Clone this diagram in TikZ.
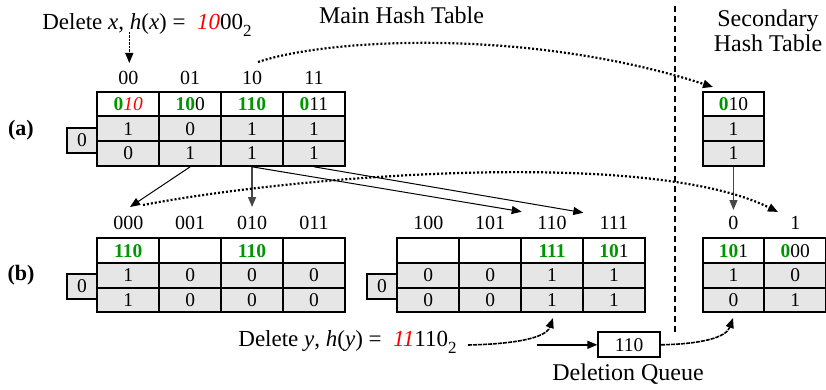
\documentclass[tikz,border=0pt]{standalone}
\usepackage{fontspec}
\setmainfont{Liberation Serif}
\usetikzlibrary{arrows.meta}
\definecolor{bitgreen}{RGB}{0,150,0}
\definecolor{bitred}{RGB}{255,0,0}
\definecolor{cellgray}{RGB}{230,230,230}
\definecolor{linkgray}{RGB}{70,70,70}
\newcommand\gb[1]{\textcolor{bitgreen}{\bfseries #1}}
\newcommand\ri[1]{\textcolor{bitred}{\itshape #1}}
\newcommand\fs[1]{\fontsize{#1}{#1}\selectfont}
% one bucket column: name, x centre, y top, key, two bit cells
\newcommand\bucket[6]{%
  \node[keycell] (#1k) at (#2,#3+12.35) {#4};
  \node[bitcell] (#1b) at (#2,#3+37.05) {#5};
  \node[bitcell] (#1c) at (#2,#3+61.75) {#6};
}
\tikzset{
  cellbase/.style={draw, line width=2pt, minimum width=61.9pt, minimum height=24.7pt,
    inner sep=0pt, font=\fs{19.5}},
  keycell/.style={cellbase, fill=white},
  bitcell/.style={cellbase, fill=cellgray},
  depthbox/.style={draw, line width=2pt, fill=cellgray, minimum width=30.6pt,
    minimum height=25pt, inner sep=0pt, font=\fs{19.5}},
  colhead/.style={font=\fs{20}, inner sep=0pt},
  title/.style={font=\fs{24}, inner sep=0pt},
  tip/.style={-{Triangle[length=10pt,width=8pt]}},
  link/.style={tip, line width=1pt},
  glink/.style={tip, line width=1.4pt, draw=linkgray},
  dotlink/.style={tip, line width=2.2pt, dash pattern=on 2pt off 2pt},
  dashlink/.style={tip, line width=1.6pt, dash pattern=on 4pt off 1pt},
}
\begin{document}
\begin{tikzpicture}[x=1pt, y=-1pt]
\useasboundingbox (0,0) rectangle (826,390);

% titles and separator
\node[title] (main) at (401.5,15) {Main Hash Table};
\node[title, align=center] (sec) at (768,31) {Secondary\\[1pt]Hash Table};
\coordinate (septop) at (675,6);
\coordinate (sepbot) at (675,333);
\draw[line width=1.6pt, dash pattern=on 6pt off 4pt] (septop) -- (sepbot);

% ---------- (a) ----------
\node[font=\fs{22}\bfseries, inner sep=0pt] (la) at (21,130) {(a)};
\node[font=\fs{23}, inner sep=0pt] (delx) at (147,25)
  {Delete \textit{x}, \textit{h}(\textit{x}) =\ \ \ri{10}00\raisebox{-0.32em}{\fs{17}2}};
\node[depthbox] (da) at (82,140.3) {0};
\bucket{a00}{128.25}{91.7}{\gb{0}\ri{10}}{1}{0}
\bucket{a01}{190.15}{91.7}{\gb{10}0}{0}{1}
\bucket{a10}{252.05}{91.7}{\gb{110}}{1}{1}
\bucket{a11}{313.95}{91.7}{\gb{0}11}{1}{1}
\node[colhead] (ha00) at (128.25,78) {00};
\node[colhead] (ha01) at (190.15,78) {01};
\node[colhead] (ha10) at (252.05,78) {10};
\node[colhead] (ha11) at (313.95,78) {11};

\bucket{sa0}{733.45}{91.7}{\gb{0}10}{1}{1}

% ---------- (b) ----------
\node[font=\fs{22}\bfseries, inner sep=0pt] (lb) at (21,275) {(b)};
\node[depthbox] (db1) at (82,286.5) {0};
\node[depthbox] (db2) at (382,286.5) {0};
\bucket{b000}{128.25}{238.3}{\gb{110}}{1}{1}
\bucket{b001}{190.15}{238.3}{}{0}{0}
\bucket{b010}{252.05}{238.3}{\gb{110}}{0}{0}
\bucket{b011}{313.95}{238.3}{}{0}{0}
\bucket{b100}{428.25}{238.3}{}{0}{0}
\bucket{b101}{490.15}{238.3}{}{0}{0}
\bucket{b110}{552.05}{238.3}{\gb{111}}{1}{1}
\bucket{b111}{613.95}{238.3}{\gb{10}1}{1}{1}
\node[colhead] (hb000) at (128.25,223) {000};
\node[colhead] (hb001) at (190.15,223) {001};
\node[colhead] (hb010) at (252.05,223) {010};
\node[colhead] (hb011) at (313.95,223) {011};
\node[colhead] (hb100) at (428.25,223) {100};
\node[colhead] (hb101) at (490.15,223) {101};
\node[colhead] (hb110) at (552.05,223) {110};
\node[colhead] (hb111) at (613.95,223) {111};

\bucket{sb0}{733.45}{238.3}{\gb{10}1}{1}{0}
\bucket{sb1}{795.35}{238.3}{\gb{0}00}{0}{1}
\node[colhead] (hs0) at (733.45,223) {0};
\node[colhead] (hs1) at (795.35,223) {1};

% deletion queue
\node[draw, line width=2pt, minimum width=61.7pt, minimum height=25pt, inner sep=0pt,
  font=\fs{19.5}] (queue) at (629.2,344.8) {110};
\node[title] (qlabel) at (628,374) {Deletion Queue};
\node[font=\fs{23}, inner sep=0pt] (dely) at (347.5,342)
  {Delete \textit{y}, \textit{h}(\textit{y}) =\ \ \ri{11}110\raisebox{-0.32em}{\fs{17}2}};

% ---------- connectors ----------
\coordinate (dxs) at (129.3,32);
\coordinate (dxe) at (129.3,63);
\draw[tip, line width=1.3pt, dash pattern=on 2.5pt off 1pt] (dxs) -- (dxe);

\coordinate (tA000) at (130,207);
\coordinate (tA010) at (252.05,207);
\coordinate (tA110) at (521.7,211.7);
\coordinate (tA111) at (583.3,212.7);
\coordinate (tS0) at (733.45,210);
\draw[link] (a01c.south) -- (tA000);
\draw[glink] (a10c.south) -- (tA010);
\draw[link] (a10c.south) -- (tA110);
\draw[link] (a11c.south) -- (tA111);
\draw[glink] (sa0c.south) -- (tS0);

\coordinate (c1s) at (258,62);
\coordinate (c1e) at (713,87);
\draw[dotlink] (c1s) .. controls (330,38) and (530,28) .. (c1e);
\coordinate (c2s) at (143,205);
\coordinate (c2e) at (778,212);
\draw[dotlink] (c2s) .. controls (300,175) and (650,148) .. (c2e);

\coordinate (y1s) at (468,345);
\coordinate (y1e) at (553,318);
\draw[dashlink] (y1s) .. controls (515,344) and (546,338) .. (y1e);
\coordinate (qs) at (536.7,344.8);
\draw[link, line width=1.6pt] (qs) -- (queue.west);
\coordinate (y2e) at (733,318);
\draw[dashlink] (queue.east) .. controls (700,344) and (726,338) .. (y2e);
\end{tikzpicture}
\end{document}
